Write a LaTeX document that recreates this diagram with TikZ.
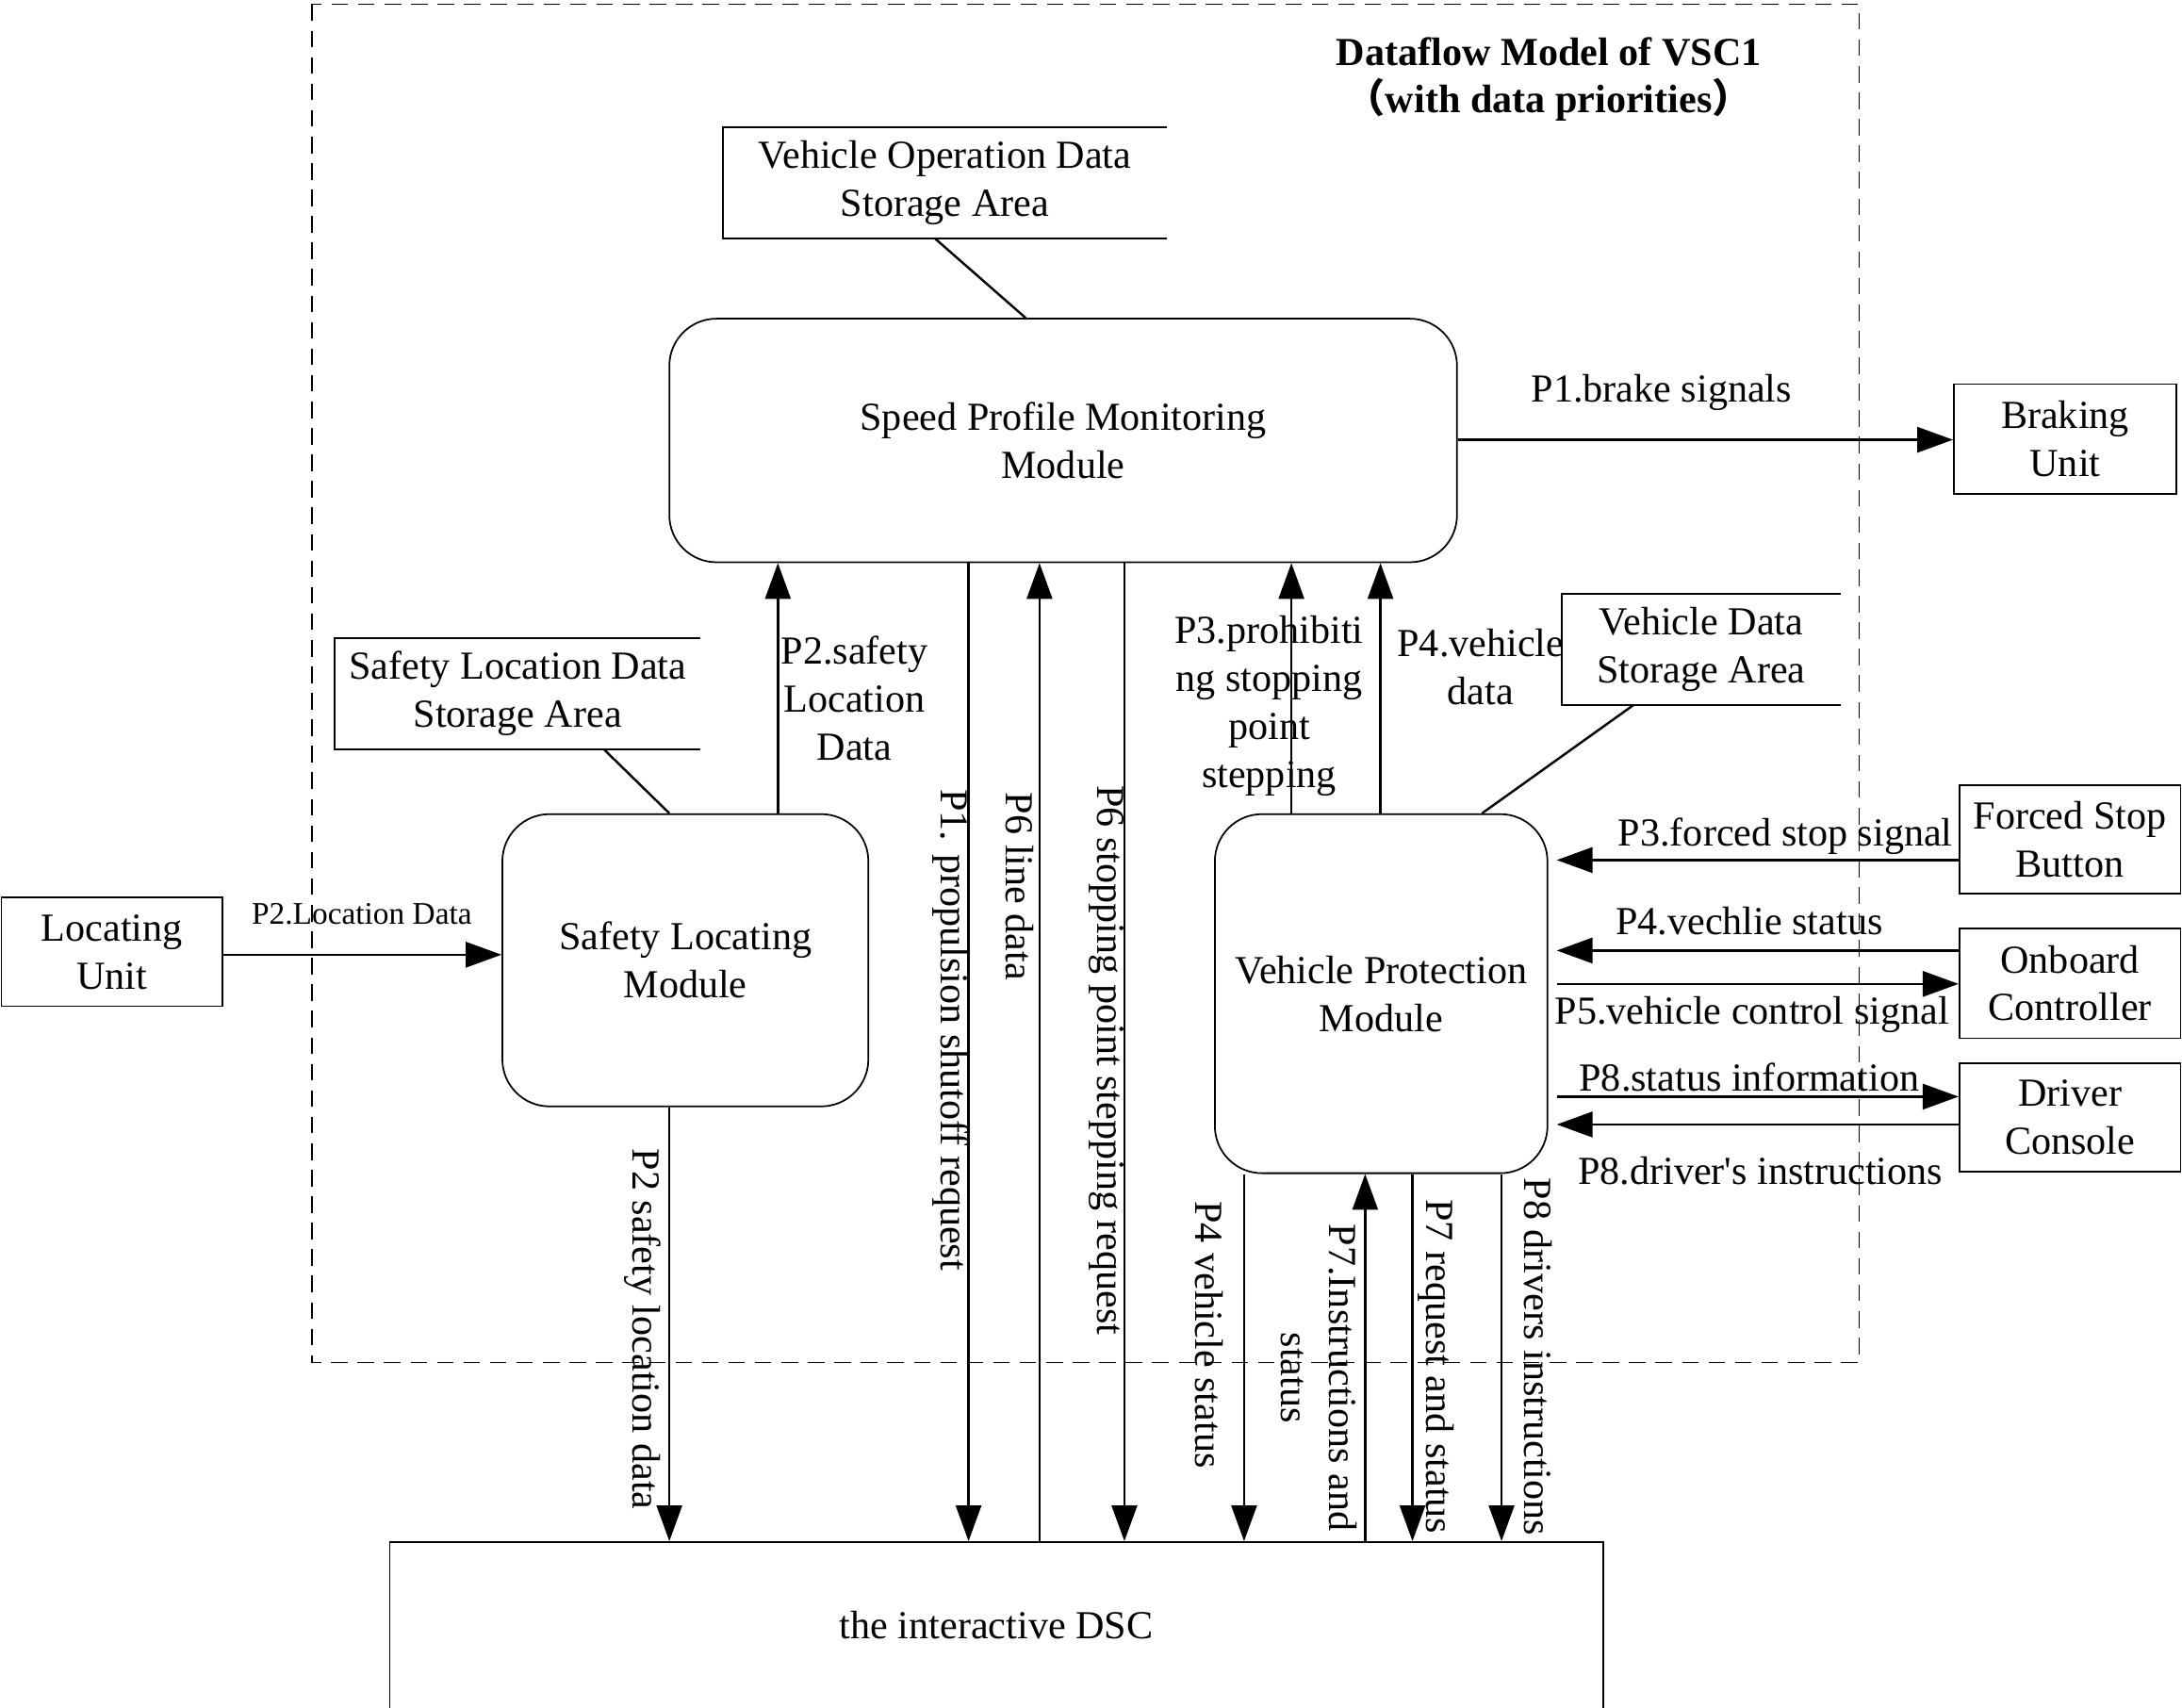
\documentclass[tikz,border=0pt]{standalone}
\usepackage{fontspec}
\setmainfont{Liberation Serif}
\newfontfamily\cjk{Noto Sans CJK SC}
\usetikzlibrary{arrows.meta,positioning}

\newdimen\pxu
\pxu=0.014764cm

\begin{document}
\begin{tikzpicture}[
    x=\pxu, y=-\pxu,
    font=\fontsize{12}{14.5}\selectfont,
    box/.style={rectangle, draw, line width=0.5pt, inner sep=0pt, align=center},
    module/.style={box, rounded corners=0.5cm},
    store/.style={rectangle, inner sep=0pt, align=center},
    edge/.style={line width=0.5pt},
    arrow/.style={-{Triangle[length=3.8mm, width=2.7mm]}, line width=0.7pt},
    link/.style={line width=0.7pt},
    lbl/.style={inner sep=1pt, align=center},
    vlbl/.style={lbl, rotate=-90}
]
\useasboundingbox (0,0) rectangle (1568,1227);

% VSC1 frame
\draw[line width=0.5pt, dash pattern=on 5pt off 3pt] (224,3) rectangle (1336,979);
\node[lbl, font=\fontsize{12}{14.5}\selectfont\bfseries] (title) at (1113,57)
    {Dataflow Model of VSC1\\{\cjk （}with data priorities{\cjk ）}};

% modules
\node[module, minimum width=566\pxu, minimum height=175\pxu] (spm) at (764,316.5) {Speed Profile Monitoring\\Module};
\node[module, minimum width=263\pxu, minimum height=210\pxu] (slm) at (492.5,690) {Safety Locating\\Module};
\node[module, minimum width=239\pxu, minimum height=258\pxu] (vpm) at (992.5,714) {Vehicle Protection\\Module};

% data stores (open on the right)
\node[store, minimum width=318\pxu, minimum height=79\pxu] (vods) at (679,131.5) {Vehicle Operation Data\\Storage Area};
\node[store, minimum width=262\pxu, minimum height=79\pxu] (slds) at (372,498.5) {Safety Location Data\\Storage Area};
\node[store, minimum width=199\pxu, minimum height=79\pxu] (vds) at (1222.5,466.5) {Vehicle Data\\Storage Area};
\foreach \s in {vods, slds, vds}
    \draw[edge] (\s.north east) -- (\s.north west) -- (\s.south west) -- (\s.south east);

% external units
\node[box, minimum width=159\pxu, minimum height=78\pxu] (lu) at (80.5,684) {Locating\\Unit};
\node[box, minimum width=160\pxu, minimum height=79\pxu] (bu) at (1484,315.5) {Braking\\Unit};
\node[box, minimum width=159\pxu, minimum height=78\pxu] (fsb) at (1487.5,603) {Forced Stop\\Button};
\node[box, minimum width=159\pxu, minimum height=79\pxu] (oc) at (1487.5,706.5) {Onboard\\Controller};
\node[box, minimum width=159\pxu, minimum height=78\pxu] (dc) at (1487.5,803) {Driver\\Console};
\node[box, minimum width=872\pxu, minimum height=120\pxu] (dsc) at (716,1168) {the interactive DSC};

% store links
\draw[link] (vods.south -| 672,0) -- (spm.north -| 737,0);
\draw[link] (slds.south -| 434,0) -- (slm.north -| 481,0);
\draw[link] (vds.south -| 1174,0) -- (vpm.north -| 1065,0);

% flows around the speed profile module
\draw[arrow] (lu.east |- 0,686) -- (slm.west |- 0,686);
\draw[arrow] (slm.north -| 559,0) -- (spm.south -| 559,0);
\draw[arrow] (spm.east |- 0,316) -- (bu.west |- 0,316);
\draw[arrow] (spm.south -| 696,0) -- (dsc.north -| 696,0);
\draw[arrow] (dsc.north -| 747,0) -- (spm.south -| 747,0);
\draw[arrow] (spm.south -| 808,0) -- (dsc.north -| 808,0);
\draw[arrow] (vpm.north -| 928,0) -- (spm.south -| 928,0);
\draw[arrow] (vpm.north -| 992,0) -- (spm.south -| 992,0);
\draw[arrow] (slm.south -| 481,0) -- (dsc.north -| 481,0);

% flows around the vehicle protection module
\draw[arrow, shorten >=0.9mm] (fsb.west |- 0,618) -- (vpm.east |- 0,618);
\draw[arrow, shorten >=0.9mm] (oc.west |- 0,683) -- (vpm.east |- 0,683);
\draw[arrow, shorten <=0.9mm] (vpm.east |- 0,707) -- (oc.west |- 0,707);
\draw[arrow, shorten <=0.9mm] (vpm.east |- 0,788) -- (dc.west |- 0,788);
\draw[arrow, shorten >=0.9mm] (dc.west |- 0,808) -- (vpm.east |- 0,808);
\draw[arrow] (vpm.south -| 894,0) -- (dsc.north -| 894,0);
\draw[arrow] (dsc.north -| 981,0) -- (vpm.south -| 981,0);
\draw[arrow] (vpm.south -| 1015,0) -- (dsc.north -| 1015,0);
\draw[arrow] (vpm.south -| 1079,0) -- (dsc.north -| 1079,0);

% flow labels
\node[lbl, font=\fontsize{9.5}{11}\selectfont] (lLoc) at (260,657) {P2.Location Data};
\node[lbl] (lSafe) at (614,502) {P2.safety\\Location\\Data};
\node[lbl] (lBrake) at (1194,282) {P1.brake signals};
\node[lbl] (lProh) at (912,507) {P3.prohibiti\\ng stopping\\point\\stepping};
\node[lbl] (lVdata) at (1064,479) {P4.vehicle\\data};
\node[lbl] (lForced) at (1283,601) {P3.forced stop signal};
\node[lbl] (lVstat) at (1257,662) {P4.vechlie status};
\node[lbl] (lVctrl) at (1259,729) {P5.vehicle control signal};
\node[lbl] (lStat) at (1257,774) {P8.status information};
\node[lbl] (lDrv) at (1265,841) {P8.driver\textquotesingle s instructions};
\node[vlbl] (lProp) at (683,740) {P1. propulsion shutoff request};
\node[vlbl] (lLine) at (733,637) {P6 line data};
\node[vlbl] (lStop) at (795,762) {P6 stopping point stepping request};
\node[vlbl] (lLocData) at (462,955) {P2 safety location data};
\node[vlbl] (lVehStat) at (869,959) {P4 vehicle status};
\node[vlbl] (lInst) at (948,990) {P7.Instructions and\\status};
\node[vlbl] (lReq) at (1032,982) {P7 request and status};
\node[vlbl] (lDrvInst) at (1105,975) {P8 drivers instructions};

\end{tikzpicture}
\end{document}
